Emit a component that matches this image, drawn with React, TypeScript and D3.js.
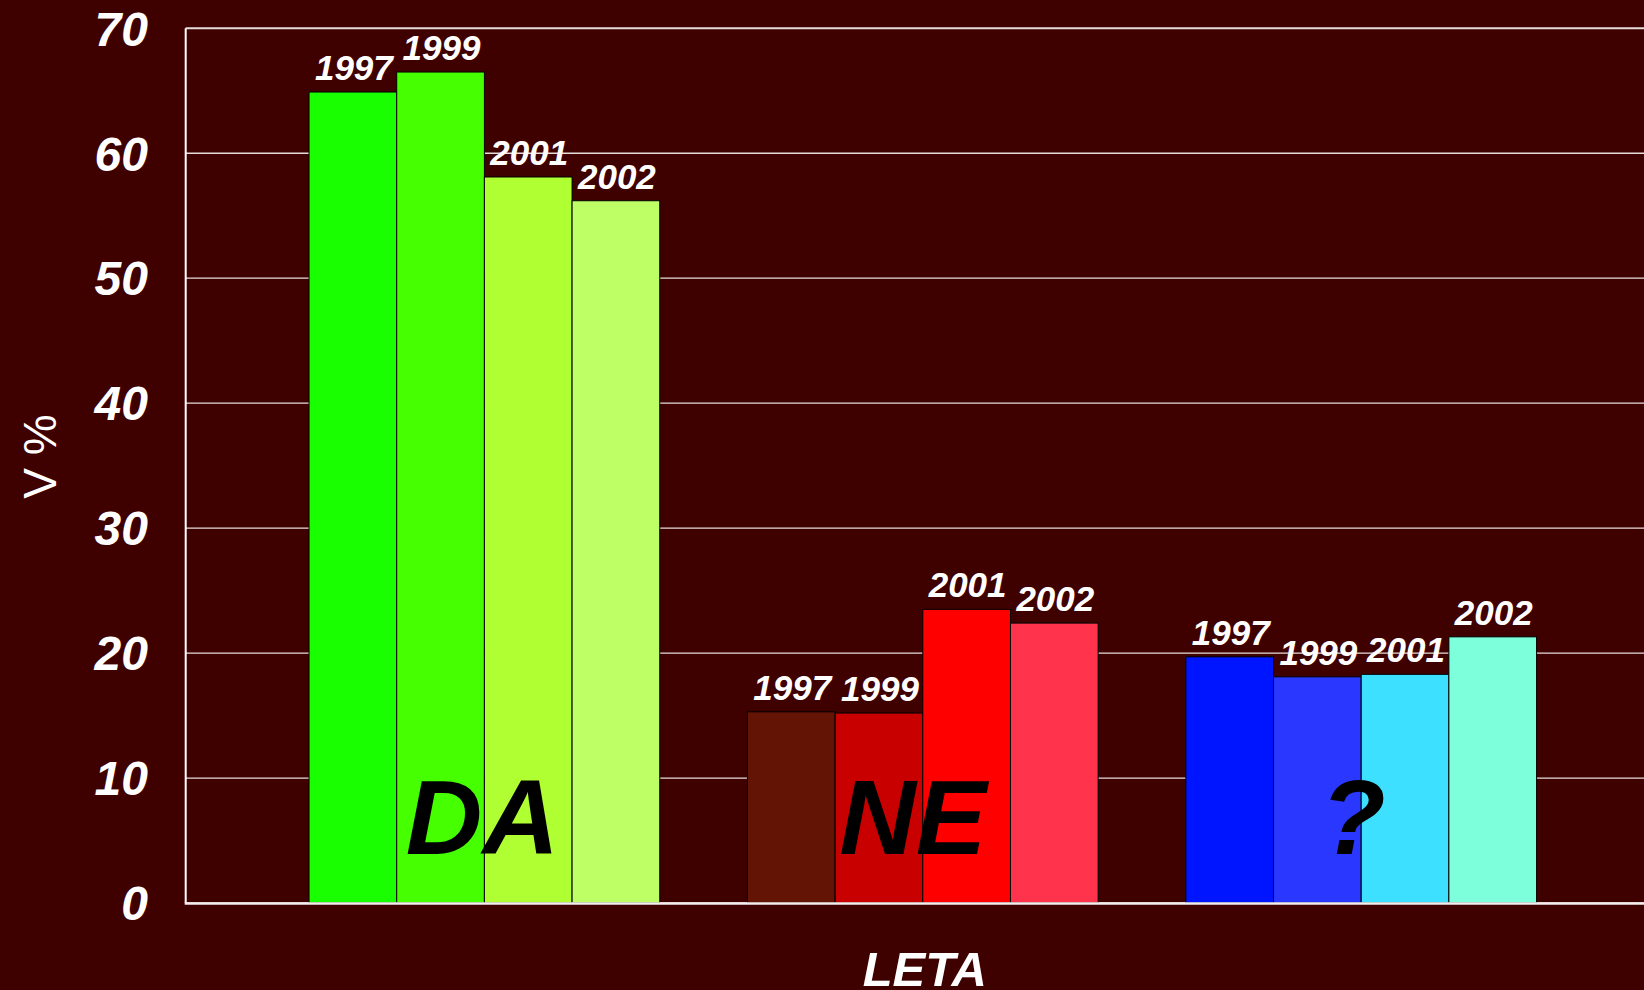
import React from "react";
import * as d3 from "d3";

const categories = ["DA", "NE", "?"];
const years = ["1997", "1999", "2001", "2002"];
const daValues = [64.9, 66.5, 58.1, 56.2];
const neValues = [15.3, 15.2, 23.5, 22.4];
const qValues = [19.7, 18.1, 18.3, 21.3];
const daColors = ["#1aff00", "#46ff00", "#afff33", "#bfff66"];
const neColors = ["#641405", "#c80000", "#ff0000", "#ff334b"];
const qColors = ["#0015ff", "#2a38ff", "#3ee0ff", "#7effdb"];
const yTicks = [0, 10, 20, 30, 40, 50, 60, 70];
const yLabel = "V %";
const xLabel = "LETA";

const values = [daValues, neValues, qValues];
const colors = [daColors, neColors, qColors];
const letterOffsets = [-2, -10, -8];

const W = 1644;
const H = 990;
const axisX = 185.7;
const FONT = "'Liberation Sans', Arial, sans-serif";

export default function App() {
  const y = d3.scaleLinear().domain([0, 70]).range([903, 28.3]);
  const x0 = d3
    .scaleBand<string>()
    .domain(categories)
    .range([265.2, 1580.4])
    .paddingInner(0.2)
    .paddingOuter(0.1);
  const x1 = d3.scaleBand<string>().domain(years).range([0, x0.bandwidth()]);

  return (
    <svg
      width={W}
      height={H}
      style={{ position: "absolute", left: 0, top: 0, display: "block" }}
    >
      <rect x={0} y={0} width={W} height={H} fill="#3f0000" />
      {yTicks.map((t) => (
        <line
          key={"g" + t}
          x1={axisX}
          x2={W}
          y1={y(t)}
          y2={y(t)}
          stroke="#e6dcdc"
          strokeWidth={t === 70 ? 2 : 1.3}
        />
      ))}
      {categories.map((c, ci) => (
        <g key={c} transform={`translate(${x0(c)},0)`}>
          {years.map((yr, yi) => (
            <rect
              key={yr}
              x={x1(yr)}
              y={y(values[ci][yi])}
              width={x1.bandwidth()}
              height={y(0) - y(values[ci][yi])}
              fill={colors[ci][yi]}
              stroke="#000"
              strokeWidth={1}
            />
          ))}
        </g>
      ))}
      <line x1={axisX} x2={axisX} y1={y(70)} y2={y(0)} stroke="#fff" strokeWidth={2} />
      <line x1={axisX - 1} x2={W} y1={y(0) + 0.5} y2={y(0) + 0.5} stroke="#f4eeee" strokeWidth={2.5} />
      {categories.map((c, ci) => (
        <g key={"l" + c} transform={`translate(${x0(c)},0)`}>
          {years.map((yr, yi) => (
            <text
              key={yr}
              x={(x1(yr) as number) + x1.bandwidth() / 2 + 1}
              y={y(values[ci][yi]) - 12}
              textAnchor="middle"
              fill="#fff"
              fontFamily={FONT}
              fontWeight="bold"
              fontStyle="italic"
              fontSize={35}
            >
              {yr}
            </text>
          ))}
          <text
            x={x0.bandwidth() / 2 + letterOffsets[ci]}
            y={854}
            textAnchor="middle"
            fill="#000"
            fontFamily={FONT}
            fontWeight="bold"
            fontStyle="italic"
            fontSize={106}
          >
            {c}
          </text>
        </g>
      ))}
      {yTicks.map((t) => (
        <text
          key={"t" + t}
          x={148}
          y={y(t)}
          dy="0.36em"
          textAnchor="end"
          fill="#fff"
          fontFamily={FONT}
          fontWeight="bold"
          fontStyle="italic"
          fontSize={48}
        >
          {t}
        </text>
      ))}
      <text
        transform="translate(56,456.5) rotate(-90)"
        textAnchor="middle"
        fill="#fff"
        fontFamily={FONT}
        fontSize={46}
      >
        {yLabel}
      </text>
      <text
        x={(x0("NE") as number) + x0.bandwidth() / 2 + 2}
        y={986}
        textAnchor="middle"
        fill="#fff"
        fontFamily={FONT}
        fontWeight="bold"
        fontStyle="italic"
        fontSize={49}
      >
        {xLabel}
      </text>
    </svg>
  );
}
